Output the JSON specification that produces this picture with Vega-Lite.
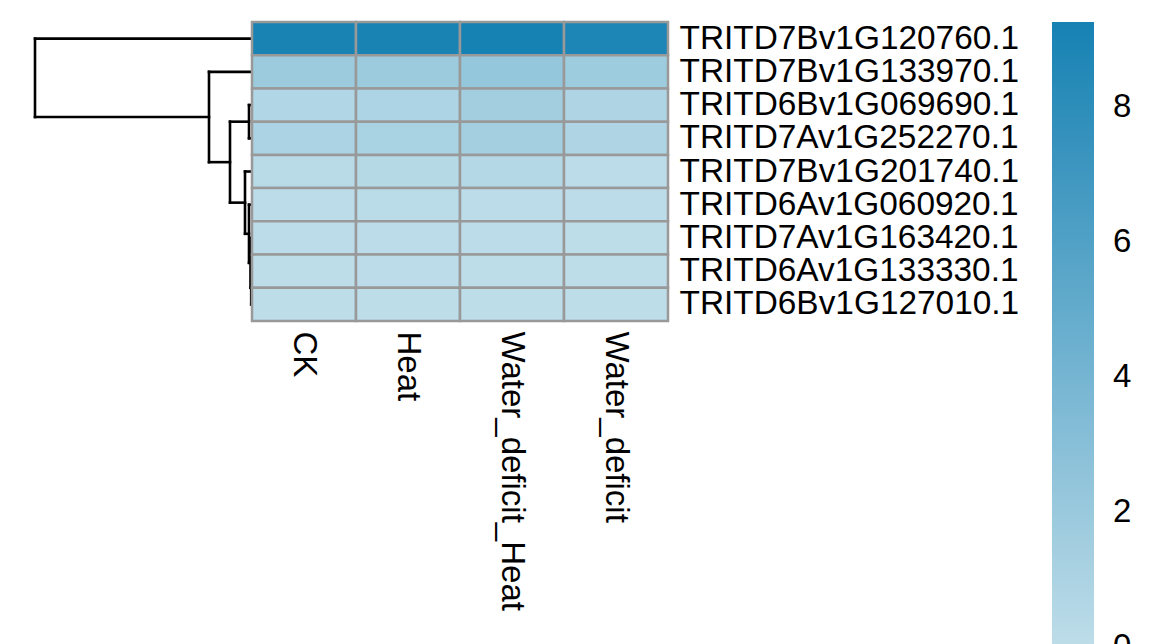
{
  "$schema": "https://vega.github.io/schema/vega-lite/v6.json",
  "padding": {"left": 33, "top": 20, "right": 0, "bottom": 0},
  "background": "white",
  "spacing": 0,
  "bounds": "flush",
  "config": {
    "view": {"stroke": null},
    "font": "Liberation Sans"
  },
  "datasets": {
    "dend": [
      {"h1": 0.8, "h2": 0.8, "y1": 8, "y2": 9},
      {"h1": 0.8, "h2": 0, "y1": 8, "y2": 8},
      {"h1": 0.8, "h2": 0, "y1": 9, "y2": 9},
      {"h1": 1.5, "h2": 1.5, "y1": 7, "y2": 8.5},
      {"h1": 1.5, "h2": 0, "y1": 7, "y2": 7},
      {"h1": 1.5, "h2": 0.8, "y1": 8.5, "y2": 8.5},
      {"h1": 3, "h2": 3, "y1": 6, "y2": 7.75},
      {"h1": 3, "h2": 0, "y1": 6, "y2": 6},
      {"h1": 3, "h2": 1.5, "y1": 7.75, "y2": 7.75},
      {"h1": 7, "h2": 7, "y1": 5, "y2": 6.875},
      {"h1": 7, "h2": 0, "y1": 5, "y2": 5},
      {"h1": 7, "h2": 3, "y1": 6.875, "y2": 6.875},
      {"h1": 3, "h2": 3, "y1": 3, "y2": 4},
      {"h1": 3, "h2": 0, "y1": 3, "y2": 3},
      {"h1": 3, "h2": 0, "y1": 4, "y2": 4},
      {"h1": 22, "h2": 22, "y1": 3.5, "y2": 5.9375},
      {"h1": 22, "h2": 3, "y1": 3.5, "y2": 3.5},
      {"h1": 22, "h2": 7, "y1": 5.9375, "y2": 5.9375},
      {"h1": 43, "h2": 43, "y1": 2, "y2": 4.71875},
      {"h1": 43, "h2": 0, "y1": 2, "y2": 2},
      {"h1": 43, "h2": 22, "y1": 4.71875, "y2": 4.71875},
      {"h1": 217, "h2": 217, "y1": 1, "y2": 3.359375},
      {"h1": 217, "h2": 0, "y1": 1, "y2": 1},
      {"h1": 217, "h2": 43, "y1": 3.359375, "y2": 3.359375}
    ],
    "cells": [
      {"gene": "TRITD7Bv1G120760.1", "condition": "CK", "value": 9.1},
      {"gene": "TRITD7Bv1G120760.1", "condition": "Heat", "value": 9.1},
      {"gene": "TRITD7Bv1G120760.1", "condition": "Water_deficit_Heat", "value": 9.26},
      {"gene": "TRITD7Bv1G120760.1", "condition": "Water_deficit", "value": 8.8},
      {"gene": "TRITD7Bv1G133970.1", "condition": "CK", "value": 1.85},
      {"gene": "TRITD7Bv1G133970.1", "condition": "Heat", "value": 1.85},
      {"gene": "TRITD7Bv1G133970.1", "condition": "Water_deficit_Heat", "value": 2.3},
      {"gene": "TRITD7Bv1G133970.1", "condition": "Water_deficit", "value": 1.75},
      {"gene": "TRITD6Bv1G069690.1", "condition": "CK", "value": 0.72},
      {"gene": "TRITD6Bv1G069690.1", "condition": "Heat", "value": 0.94},
      {"gene": "TRITD6Bv1G069690.1", "condition": "Water_deficit_Heat", "value": 1.5},
      {"gene": "TRITD6Bv1G069690.1", "condition": "Water_deficit", "value": 0.8},
      {"gene": "TRITD7Av1G252270.1", "condition": "CK", "value": 1.0},
      {"gene": "TRITD7Av1G252270.1", "condition": "Heat", "value": 1.15},
      {"gene": "TRITD7Av1G252270.1", "condition": "Water_deficit_Heat", "value": 1.45},
      {"gene": "TRITD7Av1G252270.1", "condition": "Water_deficit", "value": 0.8},
      {"gene": "TRITD7Bv1G201740.1", "condition": "CK", "value": 0.25},
      {"gene": "TRITD7Bv1G201740.1", "condition": "Heat", "value": 0.45},
      {"gene": "TRITD7Bv1G201740.1", "condition": "Water_deficit_Heat", "value": 0.55},
      {"gene": "TRITD7Bv1G201740.1", "condition": "Water_deficit", "value": 0.15},
      {"gene": "TRITD6Av1G060920.1", "condition": "CK", "value": 0.06},
      {"gene": "TRITD6Av1G060920.1", "condition": "Heat", "value": 0.22},
      {"gene": "TRITD6Av1G060920.1", "condition": "Water_deficit_Heat", "value": 0.08},
      {"gene": "TRITD6Av1G060920.1", "condition": "Water_deficit", "value": 0.06},
      {"gene": "TRITD7Av1G163420.1", "condition": "CK", "value": 0.06},
      {"gene": "TRITD7Av1G163420.1", "condition": "Heat", "value": 0.08},
      {"gene": "TRITD7Av1G163420.1", "condition": "Water_deficit_Heat", "value": 0.06},
      {"gene": "TRITD7Av1G163420.1", "condition": "Water_deficit", "value": 0.04},
      {"gene": "TRITD6Av1G133330.1", "condition": "CK", "value": 0.04},
      {"gene": "TRITD6Av1G133330.1", "condition": "Heat", "value": 0.06},
      {"gene": "TRITD6Av1G133330.1", "condition": "Water_deficit_Heat", "value": 0.05},
      {"gene": "TRITD6Av1G133330.1", "condition": "Water_deficit", "value": 0.04},
      {"gene": "TRITD6Bv1G127010.1", "condition": "CK", "value": 0.03},
      {"gene": "TRITD6Bv1G127010.1", "condition": "Heat", "value": 0.04},
      {"gene": "TRITD6Bv1G127010.1", "condition": "Water_deficit_Heat", "value": 0.04},
      {"gene": "TRITD6Bv1G127010.1", "condition": "Water_deficit", "value": 0.03}
    ]
  },
  "hconcat": [
    {
      "width": 217,
      "height": 299,
      "data": {"name": "dend"},
      "mark": {"type": "rule", "color": "black", "strokeWidth": 2.6, "strokeCap": "square"},
      "encoding": {
        "x": {"field": "h1", "type": "quantitative", "scale": {"domain": [0, 217], "reverse": true, "nice": false, "zero": false}, "axis": null},
        "x2": {"field": "h2"},
        "y": {"field": "y1", "type": "quantitative", "scale": {"domain": [0.5, 9.5], "reverse": true, "nice": false, "zero": false}, "axis": null},
        "y2": {"field": "y2"}
      }
    },
    {
      "width": 416,
      "height": 299,
      "data": {"name": "cells"},
      "mark": {"type": "rect", "stroke": "#999999", "strokeWidth": 2.5},
      "encoding": {
        "x": {
          "field": "condition", "type": "nominal",
          "sort": ["CK", "Heat", "Water_deficit_Heat", "Water_deficit"],
          "scale": {"paddingInner": 0, "paddingOuter": 0},
          "axis": {"title": null, "orient": "bottom", "labelAngle": 90, "labelAlign": "left", "labelBaseline": "middle", "labelFontSize": 33, "labelColor": "black", "labelPadding": 10, "labelLimit": 0, "ticks": false, "domain": false, "labelFont": "Liberation Sans"}
        },
        "y": {
          "field": "gene", "type": "nominal",
          "sort": ["TRITD7Bv1G120760.1", "TRITD7Bv1G133970.1", "TRITD6Bv1G069690.1", "TRITD7Av1G252270.1", "TRITD7Bv1G201740.1", "TRITD6Av1G060920.1", "TRITD7Av1G163420.1", "TRITD6Av1G133330.1", "TRITD6Bv1G127010.1"],
          "scale": {"paddingInner": 0, "paddingOuter": 0},
          "axis": {"title": null, "orient": "right", "labelFontSize": 33.4, "labelColor": "black", "labelPadding": 11, "ticks": false, "domain": false, "labelFont": "Liberation Sans", "labelLimit": 0}
        },
        "color": {
          "field": "value", "type": "quantitative",
          "scale": {"domain": [0, 9.26], "range": ["#bedde9", "#1681b3"], "interpolate": "rgb"},
          "legend": {"orient": "right", "offset": 33, "title": null, "direction": "vertical", "gradientLength": 625, "gradientThickness": 42, "gradientStrokeWidth": 0, "values": [0, 2, 4, 6, 8], "labelFontSize": 33, "labelColor": "black", "labelOffset": 19, "labelOverlap": false, "labelFont": "Liberation Sans",
            "encode": {"labels": {"update": {"baseline": {"value": "middle"}}}}}
        }
      }
    }
  ]
}
